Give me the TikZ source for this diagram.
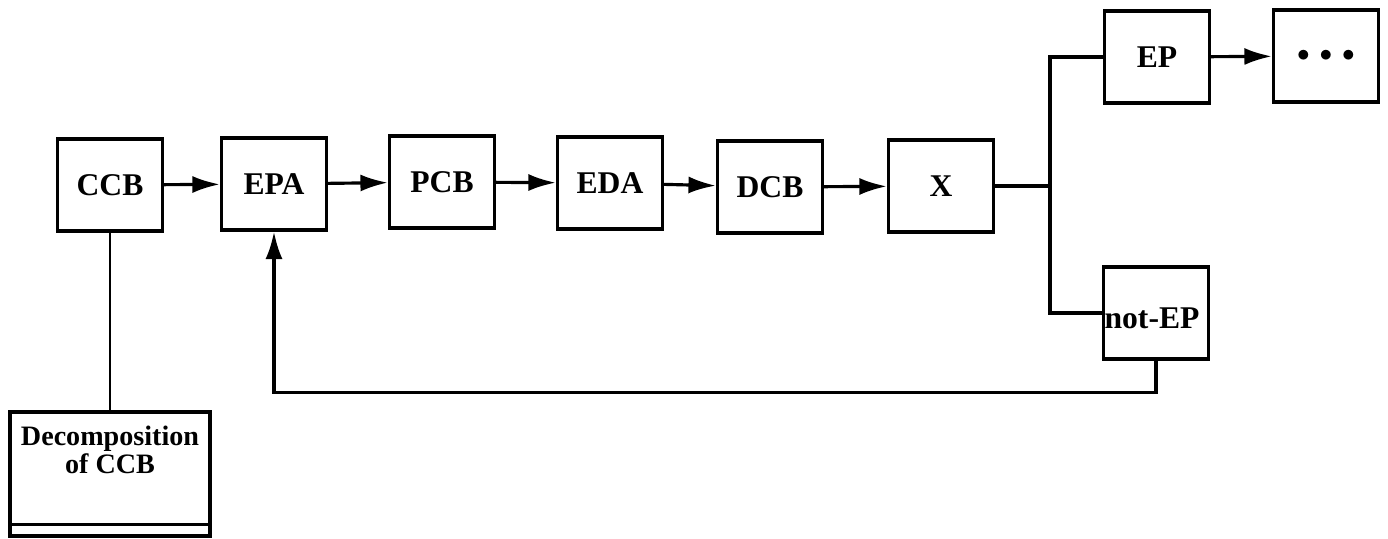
\documentclass[tikz,border=0pt]{standalone}
\usepackage{fontspec}
\setmainfont{Liberation Serif}
\usetikzlibrary{arrows.meta}
\tikzset{
  blk/.style={draw, line width=1.8pt, minimum width=2.1cm, minimum height=1.84cm,
    font=\bfseries\fontsize{18}{20}\selectfont, inner sep=0pt},
  wire/.style={line width=1.8pt}
}
\begin{document}
\begin{tikzpicture}[>={Latex[length=5.5mm,width=3.4mm]}, x=0.02cm, y=-0.02cm]
    \useasboundingbox (0,0) rectangle (1388,538);
    % main chain
    \node[blk] (ccb) at (110,185) {CCB};
    \node[blk] (epa) at (274,184) {EPA};
    \node[blk] (pcb) at (442,182) {PCB};
    \node[blk] (eda) at (610,183) {EDA};
    \node[blk] (dcb) at (770,187) {DCB};
    \node[blk] (x) at (941,186) {X};
    \node[blk] (ep) at (1157,57) {EP};
    \node[blk, font=\fontsize{15}{16}\selectfont] (dots) at (1326,56) {$\bullet\,\bullet\,\bullet$};
    \node[blk] (notep) at (1156,313) {};
    \node[font=\bfseries\fontsize{18}{20}\selectfont, inner sep=0pt] (noteplbl) at (1152,318) {not-EP};
    \draw[wire,->](ccb)--(epa);
    \draw[wire,->](epa)--(pcb);
    \draw[wire,->](pcb)--(eda);
    \draw[wire,->](eda)--(dcb);
    \draw[wire,->](dcb)--(x);
    \draw[wire,->](ep)--(dots);
    % branch after X
    \coordinate (br) at (1050,186);
    \draw[wire](x)--(br);
    \draw[wire](br)|-(ep.west);
    \draw[wire](br)|-(notep.west);
    % feedback to EPA
    \draw[wire,->](notep.south)--++(0,32)-|(epa.south);
    % decomposition
    \node[draw, line width=1.8pt, minimum width=4cm, minimum height=2.48cm] (dec) at (110,474) {};
    \draw[wire]([yshift=0.26cm]dec.south west)--([yshift=0.26cm]dec.south east);
    \node[align=center, font=\bfseries\fontsize{16}{14}\selectfont] (dectxt) at (110,450) {Decomposition\\of CCB};
    \draw[line width=1.1pt](ccb)--(dec);
\end{tikzpicture}
\end{document}
